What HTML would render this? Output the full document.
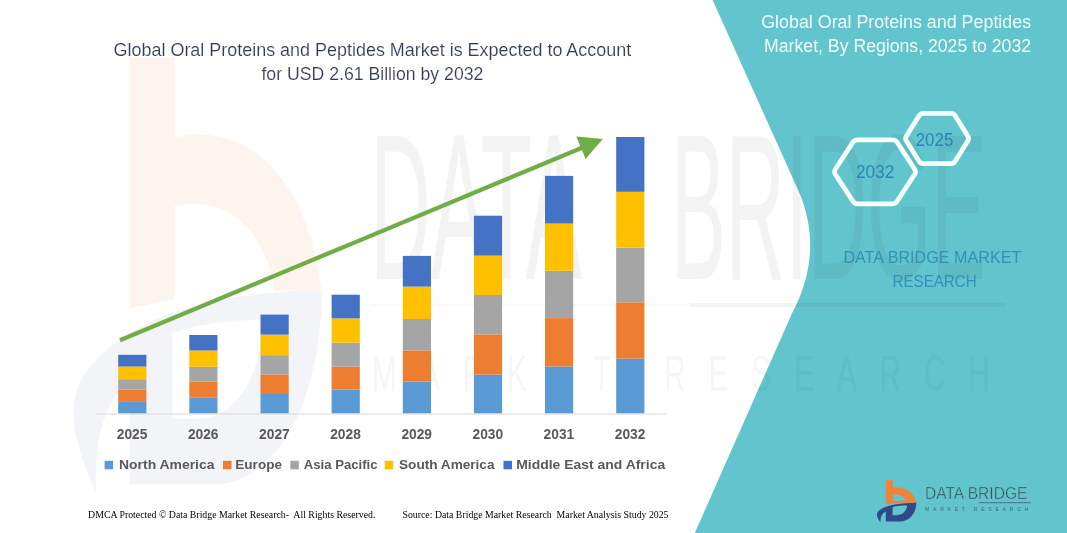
<!DOCTYPE html>
<html lang="en">
<head>
<meta charset="utf-8">
<title>Global Oral Proteins and Peptides Market</title>
<style>
html,body{margin:0;padding:0;background:#fff;}
body{width:1067px;height:533px;overflow:hidden;font-family:"Liberation Sans",sans-serif;}
svg{display:block;}
.t{font-family:"Liberation Sans",sans-serif;}
.s{font-family:"Liberation Serif",serif;}
</style>
</head>
<body>
<svg width="1067" height="533" viewBox="0 0 1067 533">
<rect width="1067" height="533" fill="#ffffff"/>

<!-- faint watermark (left logo) -->
<g transform="translate(73,58) scale(6.3,10.3) translate(-876.8,-480.2)" fill-rule="evenodd">
<path opacity="0.085" d="M885.8 480.2 H892.9 V487.9 C904 486.3 914 491.5 916.2 502.7 L908.8 502.8 C907.5 497 901 493.3 892.9 494.6 V503.6 L885.8 504.5 Z" fill="#F0823A"/>
<path opacity="0.06" d="M916.4 502.7 C902 502.9 886 504.5 878.5 511 C876 513.5 876.3 517 880.5 522.4 C880 517 882 513.5 885.8 511.5 V521.6 H899 C909 521.6 916 514 916.4 502.7 Z M892.6 506.9 C897 506 902 505.6 907.2 505.6 C906.5 511 903 515 897 515.2 H892.6 Z" fill="#2F4A8A"/>
</g>

<!-- teal panel -->
<path d="M712.6 0 L798.1 190 C827.35 255 794.58 307.5 791.27 315 L694.8 533 L1067 533 L1067 0 Z" fill="#62C4CC"/>

<!-- faint watermark text (on top) -->
<g opacity="0.062" fill="#303030" class="t">
<text x="370" y="279" font-size="208" textLength="212" lengthAdjust="spacingAndGlyphs">DATA</text>
<text x="671" y="279" font-size="208" textLength="315" lengthAdjust="spacingAndGlyphs">BRIDGE</text>
<rect x="690" y="303" width="315" height="4"/>
<rect x="370" y="303.5" width="320" height="2.5" fill="#E0703A" opacity="0.8"/>
<text transform="scale(0.6,1)" x="620" y="391" font-size="50" textLength="1030" lengthAdjust="spacing" opacity="0.7">MARKET RESEARCH</text>
</g>

<!-- chart -->
<line x1="95.7" y1="414" x2="667" y2="414" stroke="#D9D9D9" stroke-width="1.2"/>
<rect x="118.2" y="401.9" width="28.2" height="11.4" fill="#5B9BD5"/>
<rect x="118.2" y="389.6" width="28.2" height="12.3" fill="#ED7D31"/>
<rect x="118.2" y="379.2" width="28.2" height="10.4" fill="#A5A5A5"/>
<rect x="118.2" y="366.5" width="28.2" height="12.7" fill="#FFC000"/>
<rect x="118.2" y="354.8" width="28.2" height="11.7" fill="#4472C4"/>
<rect x="189.3" y="397.8" width="28.2" height="15.5" fill="#5B9BD5"/>
<rect x="189.3" y="381.6" width="28.2" height="16.2" fill="#ED7D31"/>
<rect x="189.3" y="366.8" width="28.2" height="14.8" fill="#A5A5A5"/>
<rect x="189.3" y="350.5" width="28.2" height="16.3" fill="#FFC000"/>
<rect x="189.3" y="335.0" width="28.2" height="15.5" fill="#4472C4"/>
<rect x="260.5" y="394.0" width="28.2" height="19.3" fill="#5B9BD5"/>
<rect x="260.5" y="374.4" width="28.2" height="19.6" fill="#ED7D31"/>
<rect x="260.5" y="355.2" width="28.2" height="19.2" fill="#A5A5A5"/>
<rect x="260.5" y="334.6" width="28.2" height="20.6" fill="#FFC000"/>
<rect x="260.5" y="314.6" width="28.2" height="20.0" fill="#4472C4"/>
<rect x="331.6" y="389.6" width="28.2" height="23.7" fill="#5B9BD5"/>
<rect x="331.6" y="366.6" width="28.2" height="23.0" fill="#ED7D31"/>
<rect x="331.6" y="342.7" width="28.2" height="23.9" fill="#A5A5A5"/>
<rect x="331.6" y="318.4" width="28.2" height="24.3" fill="#FFC000"/>
<rect x="331.6" y="294.7" width="28.2" height="23.7" fill="#4472C4"/>
<rect x="402.8" y="381.5" width="28.2" height="31.8" fill="#5B9BD5"/>
<rect x="402.8" y="350.4" width="28.2" height="31.1" fill="#ED7D31"/>
<rect x="402.8" y="319.0" width="28.2" height="31.4" fill="#A5A5A5"/>
<rect x="402.8" y="286.6" width="28.2" height="32.4" fill="#FFC000"/>
<rect x="402.8" y="255.9" width="28.2" height="30.7" fill="#4472C4"/>
<rect x="473.9" y="374.6" width="28.2" height="38.7" fill="#5B9BD5"/>
<rect x="473.9" y="334.4" width="28.2" height="40.2" fill="#ED7D31"/>
<rect x="473.9" y="295.0" width="28.2" height="39.4" fill="#A5A5A5"/>
<rect x="473.9" y="255.6" width="28.2" height="39.4" fill="#FFC000"/>
<rect x="473.9" y="215.7" width="28.2" height="39.9" fill="#4472C4"/>
<rect x="545.0" y="366.5" width="28.2" height="46.8" fill="#5B9BD5"/>
<rect x="545.0" y="318.1" width="28.2" height="48.4" fill="#ED7D31"/>
<rect x="545.0" y="270.8" width="28.2" height="47.3" fill="#A5A5A5"/>
<rect x="545.0" y="223.5" width="28.2" height="47.3" fill="#FFC000"/>
<rect x="545.0" y="175.9" width="28.2" height="47.6" fill="#4472C4"/>
<rect x="616.2" y="358.6" width="28.2" height="54.7" fill="#5B9BD5"/>
<rect x="616.2" y="302.3" width="28.2" height="56.3" fill="#ED7D31"/>
<rect x="616.2" y="247.7" width="28.2" height="54.6" fill="#A5A5A5"/>
<rect x="616.2" y="191.8" width="28.2" height="55.9" fill="#FFC000"/>
<rect x="616.2" y="137.0" width="28.2" height="54.8" fill="#4472C4"/>
<g class="t" font-size="14.2" font-weight="700" fill="#595959">
<text x="132.1" y="439.2" text-anchor="middle" textLength="30.6" lengthAdjust="spacingAndGlyphs">2025</text>
<text x="203.2" y="439.2" text-anchor="middle" textLength="30.6" lengthAdjust="spacingAndGlyphs">2026</text>
<text x="274.4" y="439.2" text-anchor="middle" textLength="30.6" lengthAdjust="spacingAndGlyphs">2027</text>
<text x="345.5" y="439.2" text-anchor="middle" textLength="30.6" lengthAdjust="spacingAndGlyphs">2028</text>
<text x="416.7" y="439.2" text-anchor="middle" textLength="30.6" lengthAdjust="spacingAndGlyphs">2029</text>
<text x="487.8" y="439.2" text-anchor="middle" textLength="30.6" lengthAdjust="spacingAndGlyphs">2030</text>
<text x="558.9" y="439.2" text-anchor="middle" textLength="30.6" lengthAdjust="spacingAndGlyphs">2031</text>
<text x="630.1" y="439.2" text-anchor="middle" textLength="30.6" lengthAdjust="spacingAndGlyphs">2032</text>
</g>

<!-- arrow -->
<line x1="120" y1="340.2" x2="588" y2="145.2" stroke="#70AD47" stroke-width="4.2"/>
<polygon points="602.8,139 576.3,136.5 585.6,159" fill="#70AD47"/>

<!-- legend -->
<g>
<rect x="104.6" y="460.8" width="8.5" height="8.5" fill="#5B9BD5"/>
<rect x="223" y="460.8" width="8.5" height="8.5" fill="#ED7D31"/>
<rect x="290.3" y="460.8" width="8.5" height="8.5" fill="#A5A5A5"/>
<rect x="384.7" y="460.8" width="8.5" height="8.5" fill="#FFC000"/>
<rect x="503.5" y="460.8" width="8.5" height="8.5" fill="#4472C4"/>
</g>
<g class="t" font-size="13.6" font-weight="700" fill="#595959">
<text x="119" y="469.2" textLength="95.5" lengthAdjust="spacingAndGlyphs">North America</text>
<text x="235.3" y="469.2" textLength="46.7" lengthAdjust="spacingAndGlyphs">Europe</text>
<text x="303.7" y="469.2" textLength="73.9" lengthAdjust="spacingAndGlyphs">Asia Pacific</text>
<text x="399" y="469.2" textLength="95.5" lengthAdjust="spacingAndGlyphs">South America</text>
<text x="516.2" y="469.2" textLength="149" lengthAdjust="spacingAndGlyphs">Middle East and Africa</text>
</g>

<!-- title -->
<g class="t" font-size="17.6" fill="#2F3C55" stroke="#ffffff" stroke-width="0.15">
<text x="113.6" y="56.2" textLength="517.6" lengthAdjust="spacingAndGlyphs">Global Oral Proteins and Peptides Market is Expected to Account</text>
<text x="261.4" y="79.9" textLength="222" lengthAdjust="spacingAndGlyphs">for USD 2.61 Billion by 2032</text>
</g>

<!-- right panel title -->
<g class="t" font-size="17.6" fill="#EFFFFF">
<text x="761.2" y="28.1" textLength="269.9" lengthAdjust="spacingAndGlyphs">Global Oral Proteins and Peptides</text>
<text x="764.1" y="52" textLength="267" lengthAdjust="spacingAndGlyphs">Market, By Regions, 2025 to 2032</text>
</g>

<!-- hexagons -->
<g fill="none" stroke="#F4FFFF" stroke-width="4.8" stroke-linejoin="round">
<path d="M835.3 174.3 Q833.7 171.8 835.3 169.3 L852.9 142.3 Q854.5 139.8 857.5 139.8 L892.5 139.8 Q895.5 139.8 897.1 142.3 L914.7 169.3 Q916.3 171.8 914.7 174.3 L897.1 201.3 Q895.5 203.8 892.5 203.8 L857.5 203.8 Q854.5 203.8 852.9 201.3 Z"/>
<path d="M906.3 140.7 Q904.9 138.5 906.3 136.3 L919.2 115.5 Q920.6 113.3 923.2 113.3 L951.0 113.3 Q953.6 113.3 955.0 115.5 L967.9 136.3 Q969.3 138.5 967.9 140.7 L955.0 161.5 Q953.6 163.7 951.0 163.7 L923.2 163.7 Q920.6 163.7 919.2 161.5 Z"/>
</g>
<g class="t" font-size="17.6" fill="#2E84B6">
<text x="856" y="177.7" textLength="38.3" lengthAdjust="spacingAndGlyphs">2032</text>
<text x="915.7" y="145.6" textLength="37.6" lengthAdjust="spacingAndGlyphs">2025</text>
</g>

<!-- DBMR text -->
<g class="t" font-size="17" fill="#3490B8">
<text x="843.4" y="262.6" textLength="177.9" lengthAdjust="spacingAndGlyphs">DATA BRIDGE MARKET</text>
<text x="892.6" y="286.6" textLength="84" lengthAdjust="spacingAndGlyphs">RESEARCH</text>
</g>

<!-- logo -->
<g fill-rule="evenodd">
<path d="M885.8 480.2 H892.9 V487.9 C904 486.3 914 491.5 916.2 502.7 C905 502.4 895 503 885.8 504.5 Z M892.9 494.6 C899 493.8 904.5 496 906.2 500.6 C901 500.6 897 500.8 892.9 501.3 Z" fill="#F0823A"/>
<path d="M916.4 502.7 C902 502.9 886 504.5 878.5 511 C876 513.5 876.3 517 880.5 522.4 C880 517 882 513.5 885.8 511.5 V521.6 H899 C909 521.6 916 514 916.4 502.7 Z M892.6 506.9 C897 506 902 505.6 907.2 505.6 C906.5 511 903 515 897 515.2 H892.6 Z" fill="#2F4A8A"/>
</g>
<g class="t" fill="#3A4858">
<text x="925" y="499.2" font-size="16.8" textLength="102.4" lengthAdjust="spacingAndGlyphs" stroke="#62C4CC" stroke-width="0.45">DATA BRIDGE</text>
<text x="925" y="511" font-size="5.2" fill-opacity="0.75" textLength="103.3" lengthAdjust="spacing">MARKET  RESEARCH</text>
</g>
<line x1="978.4" y1="502.7" x2="1030.9" y2="502.7" stroke="#4A5A6A" stroke-width="0.8"/>

<!-- footer -->
<g class="s" font-size="10.3" fill="#000">
<text x="88.1" y="518.4" textLength="287.3" lengthAdjust="spacingAndGlyphs" xml:space="preserve">DMCA Protected © Data Bridge Market Research-  All Rights Reserved.</text>
<text x="402.5" y="518.4" textLength="266" lengthAdjust="spacingAndGlyphs" xml:space="preserve">Source: Data Bridge Market Research  Market Analysis Study 2025</text>
</g>
</svg>
</body>
</html>
